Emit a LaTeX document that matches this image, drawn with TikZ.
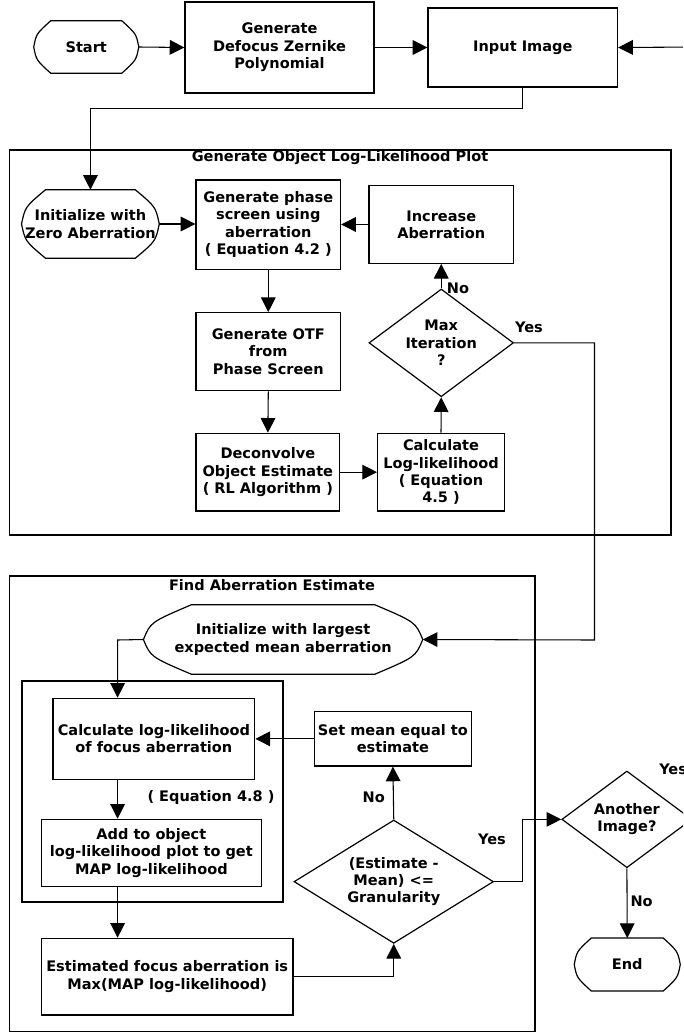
\documentclass[tikz,border=0pt]{standalone}
\usepackage{fontspec}
\setmainfont{DejaVu Sans}
\usetikzlibrary{arrows.meta,shapes.geometric,calc}
\newcommand{\termline}[2]{%
 \draw[line width=0.9pt] ($(#1.north west)+(#2,0)$) -- ($(#1.north east)+(-#2,0)$)
  .. controls ($(#1.north east)!0.5!(#1.east)+(-0.15*#2,0)$) .. (#1.east)
  .. controls ($(#1.south east)!0.5!(#1.east)+(-0.15*#2,0)$) .. ($(#1.south east)+(-#2,0)$)
  -- ($(#1.south west)+(#2,0)$)
  .. controls ($(#1.south west)!0.5!(#1.west)+(0.15*#2,0)$) .. (#1.west)
  .. controls ($(#1.north west)!0.5!(#1.west)+(0.15*#2,0)$) .. cycle;}
% \bx{style}{name}{x1}{y1}{x2}{y2}{text}  (pixel corners)
\newcommand{\bx}[7]{%
 \node[#1,minimum width={(#5-#3)*0.75pt},minimum height={(#6-#4)*0.75pt}]
  (#2) at ({(#3+#5)/2},{(#4+#6)/2}) {#7};}
\begin{document}
\begin{tikzpicture}[x=0.75pt,y=-0.75pt,
 font=\fontsize{10.9}{13}\selectfont\bfseries,
 box/.style={draw,line width=0.9pt,rectangle,inner sep=0pt,align=center},
 term/.style={rectangle,inner sep=0pt,align=center},
 dia/.style={draw,line width=0.9pt,diamond,inner sep=0pt},
 txt/.style={align=center,inner sep=0pt},
 arr/.style={line width=0.8pt,-{Triangle[length=11pt,width=11pt]}},
 frame/.style={draw,line width=0.9pt,rectangle,inner sep=0pt}
]
\useasboundingbox (0,0) rectangle (683,1034);
\clip (0,0) rectangle (683,1034);

% frames
\bx{frame}{f1}{9.6}{150}{671}{535}{}
\bx{frame}{f2}{9.6}{576}{535}{1031.7}{}
\bx{frame,line width=1.4pt}{f3}{21.8}{680.7}{283}{902.3}{}
\node[txt] (t1) at (340,157.3) {Generate Object Log-Likelihood Plot};
\node[txt] (t2) at (272,585) {Find Aberration Estimate};

% top row
\bx{term}{start}{34}{21}{138.5}{73}{Start}
\termline{start}{17}
\bx{box}{gendef}{185}{2}{374}{93}{Generate\\Defocus Zernike\\Polynomial}
\bx{box}{input}{428}{8}{617.6}{87}{Input Image}
\coordinate (rin) at (700,47);

% first frame
\bx{term}{init1}{21.8}{190}{159}{258}{Initialize with\\Zero Aberration}
\termline{init1}{24}
\bx{box}{phase}{196}{180}{340.6}{269.3}{Generate phase\\screen using\\aberration\\( Equation 4.2 )}
\bx{box}{incr}{369}{185.7}{513.5}{263.3}{Increase\\Aberration}
\bx{box}{otf}{196}{312.7}{340.6}{390.7}{Generate OTF\\from\\Phase Screen}
\bx{box}{deconv}{196}{433.3}{339.7}{511}{Deconvolve\\Object Estimate\\( RL Algorithm )}
\bx{box}{calc}{377.6}{433.3}{504.4}{511}{Calculate\\Log-likelihood\\( Equation\\4.5 )}
\bx{dia}{maxit}{369}{289}{513.5}{396.7}{}
\node[txt] (maxitT) at (maxit.center) {Max\\Iteration\\?};
\node[txt] (lno1) at (458,288) {No};
\node[txt] (lyes1) at (529,327.7) {Yes};
\coordinate (c1) at (594.5,640);

% second frame
\bx{term}{init2}{143.7}{605}{422.5}{674}{Initialize with largest\\expected mean aberration}
\termline{init2}{48}
\coordinate (c2) at (117.6,640);
\bx{box}{calc2}{53}{698.3}{254.8}{779.3}{Calculate log-likelihood\\of focus aberration}
\bx{box}{setmean}{314.5}{711.7}{471.3}{766}{Set mean equal to\\estimate}
\node[txt] (eq48) at (211,797.7) {( Equation 4.8 )};
\bx{box}{add}{41.4}{819.3}{261.3}{886.7}{Add to object\\log-likelihood plot to get\\MAP log-likelihood}
\bx{box}{est}{41.4}{938.3}{293}{1015}{Estimated focus aberration is\\Max(MAP log-likelihood)}
\bx{dia}{gran}{294}{820}{493.5}{943.3}{}
\node[txt] (granT) at (gran.center) {(Estimate -\\Mean) <=\\Granularity};
\node[txt] (lno2) at (373.7,797.7) {No};
\node[txt] (lyes2) at (492,839.3) {Yes};
\coordinate (c3) at (522.6,850);

% right side
\bx{dia}{another}{561.8}{771}{692}{867.7}{}
\node[txt] (anotherT) at (another.center) {Another\\Image?};
\node[txt,anchor=west] (lyes3) at (659,769) {Yes};
\bx{term}{endn}{574.5}{938.3}{680}{990.7}{End}
\termline{endn}{17}
\node[txt] (lno3) at (641.6,901.7) {No};

% connectors
\draw[arr] (start.east) -- (gendef.west);
\draw[arr] (gendef.east) -- (input.west);
\draw[arr] (rin) -- (input.east);
\draw[arr] (input.south) -- ++(0,21) -| (init1.north);
\draw[arr] (init1.east) -- (phase.west |- init1.east);
\draw[arr] (incr.west) -- (phase.east |- incr.west);
\draw[arr] (phase.south) -- (otf.north);
\draw[arr] (otf.south) -- (deconv.north);
\draw[arr] (deconv.east) -- (calc.west);
\draw[arr] (calc.north) -- (maxit.south);
\draw[arr] (maxit.north) -- (incr.south);
\draw[arr] (maxit.east) -| (c1) -- (init2.east);
\draw[arr] (init2.west) -- (c2) -- (c2 |- calc2.north);
\draw[arr] (setmean.west) -- (calc2.east |- setmean.west);
\draw[arr] (c2 |- calc2.south) -- (c2 |- add.north);
\draw[arr] (c2 |- add.south) -- (c2 |- est.north);
\draw[arr] (est.east) -| (gran.south);
\draw[arr] (gran.north) -- (setmean.south);
\draw[arr] (gran.east) -| (c3) |- (another.west);
\draw[arr] (another.south) -- (endn.north);
\end{tikzpicture}
\end{document}
